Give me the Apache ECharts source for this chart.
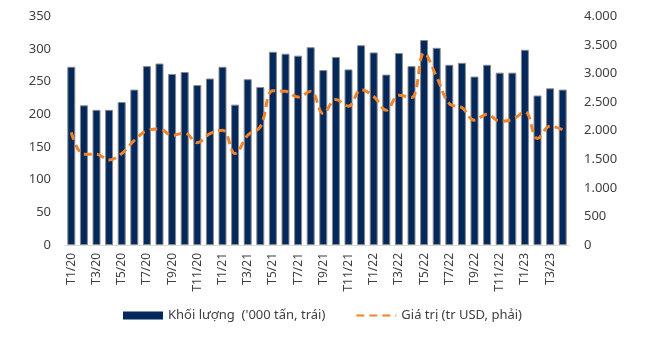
<!DOCTYPE html>
<html>
<head>
<meta charset="utf-8">
<script src="https://cdn.jsdelivr.net/npm/echarts@6/dist/echarts.min.js"></script>
<style>html,body{margin:0;padding:0;background:#fff}#c{width:645px;height:339px}</style>
</head>
<body>
<div id="c"></div>
<script>
const categories = [
  'T1/20','T2/20','T3/20','T4/20','T5/20','T6/20','T7/20','T8/20','T9/20','T10/20','T11/20','T12/20',
  'T1/21','T2/21','T3/21','T4/21','T5/21','T6/21','T7/21','T8/21','T9/21','T10/21','T11/21','T12/21',
  'T1/22','T2/22','T3/22','T4/22','T5/22','T6/22','T7/22','T8/22','T9/22','T10/22','T11/22','T12/22',
  'T1/23','T2/23','T3/23','T4/23'
];
const volume = [
  273, 214, 207, 207, 219, 238, 274, 278, 262, 265, 245, 255,
  273, 215, 254, 242, 296, 293, 290, 303, 268, 288, 269, 306,
  295, 261, 294, 274, 314, 302, 276, 279, 258, 276, 264, 264,
  299, 229, 240, 238
];
const value = [
  1970, 1590, 1590, 1490, 1600, 1830, 2000, 2030, 1920, 1960, 1790, 1950,
  2010, 1600, 1920, 2070, 2700, 2690, 2590, 2690, 2300, 2545, 2430, 2720,
  2600, 2360, 2620, 2580, 3360, 2940, 2475, 2405, 2185, 2290, 2165, 2200,
  2330, 1865, 2080, 2020
];
const leftTicks = {min: 0, max: 350, interval: 50};
const rightTicks = {min: 0, max: 4000, interval: 500};

const font = 'Noto Sans';
const chart = echarts.init(document.getElementById('c'));
chart.setOption({
  animation: false,
  backgroundColor: '#fff',
  grid: {left: 65, right: 76, top: 16.5, bottom: 94},
  legend: {
    bottom: 12,
    left: 'center',
    itemGap: 30,
    textStyle: {fontFamily: font, fontSize: 13, color: '#404040'},
    data: [
      {name: "Khối lượng  ('000 tấn, trái)", icon: 'rect', itemStyle: {borderWidth: 0}},
      {name: 'Giá trị (tr USD, phải)', itemStyle: {opacity: 0}}
    ],
    itemWidth: 40,
    itemHeight: 8
  },
  xAxis: {
    type: 'category',
    data: categories,
    axisLine: {lineStyle: {color: '#d9d9d9', width: 1}},
    axisTick: {show: false},
    axisLabel: {interval: 1, rotate: 90, fontFamily: font, fontSize: 12, color: '#404040', margin: 8}
  },
  yAxis: [
    {
      type: 'value', min: leftTicks.min, max: leftTicks.max, interval: leftTicks.interval,
      splitLine: {show: false}, axisLine: {show: false}, axisTick: {show: false},
      axisLabel: {fontFamily: font, fontSize: 13, color: '#404040', margin: 14}
    },
    {
      type: 'value', min: rightTicks.min, max: rightTicks.max, interval: rightTicks.interval,
      splitLine: {show: false}, axisLine: {show: false}, axisTick: {show: false},
      axisLabel: {fontFamily: font, fontSize: 13, color: '#404040', margin: 15,
        formatter: v => v.toLocaleString('de-DE')}
    }
  ],
  series: [
    {
      name: "Khối lượng  ('000 tấn, trái)",
      type: 'bar',
      data: volume,
      yAxisIndex: 0,
      barWidth: 8,
      itemStyle: {color: '#03295C', borderColor: '#8a8a8a', borderWidth: 1}
    },
    {
      name: 'Giá trị (tr USD, phải)',
      type: 'line',
      data: value,
      yAxisIndex: 1,
      smooth: 0.4,
      symbol: 'none',
      lineStyle: {color: '#F0842C', width: 3, type: [8, 5]},
      itemStyle: {color: '#F0842C'}
    }
  ]
});
</script>
</body>
</html>
